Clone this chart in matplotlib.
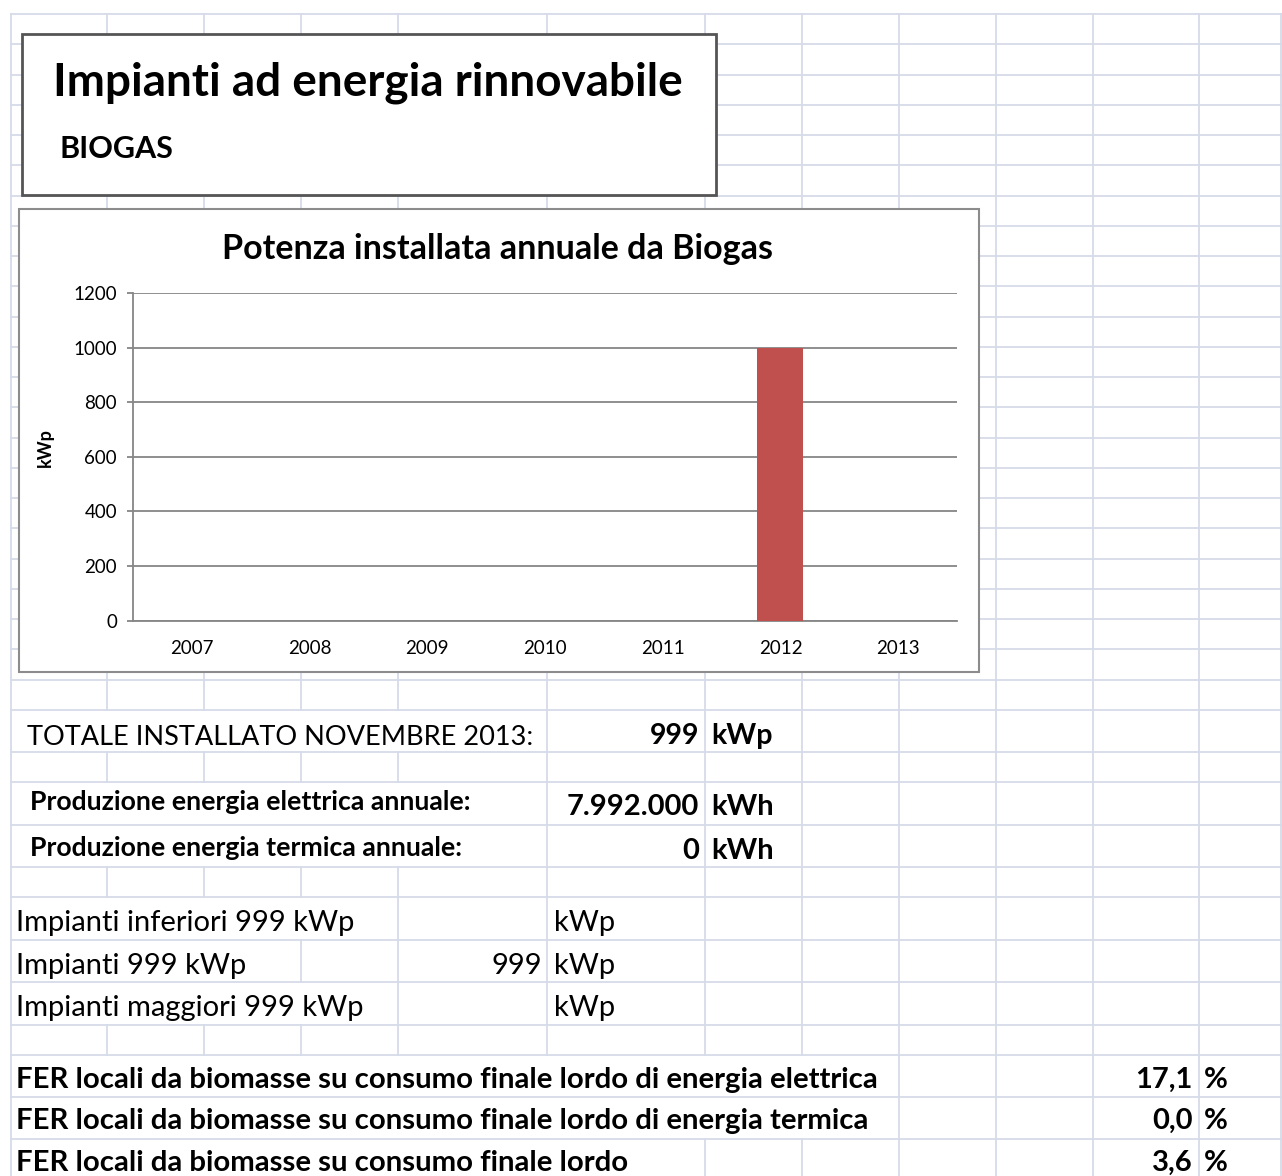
import numpy as np
import matplotlib.pyplot as plt
from matplotlib.patches import Rectangle

# dati del grafico
anni = ['2007', '2008', '2009', '2010', '2011', '2012', '2013']
potenza_kwp = [0, 0, 0, 0, 0, 999, 0]
yticks = [0, 200, 400, 600, 800, 1000, 1200]

titolo = 'Impianti ad energia rinnovabile'
sottotitolo = 'BIOGAS'
titolo_grafico = 'Potenza installata annuale da Biogas'

# tabella sotto il grafico
totale_label = 'TOTALE INSTALLATO NOVEMBRE 2013:'
totale_valore = '999'
produzione_label = ['Produzione energia elettrica annuale:', 'Produzione energia termica annuale:']
produzione_valore = ['7.992.000', '0']
impianti_label = ['Impianti inferiori 999 kWp', 'Impianti 999 kWp', 'Impianti maggiori 999 kWp']
impianti_valore = ['', '999', '']
fer_label = ['FER locali da biomasse su consumo finale lordo di energia elettrica',
             'FER locali da biomasse su consumo finale lordo di energia termica',
             'FER locali da biomasse su consumo finale lordo']
fer_valore = ['17,1', '0,0', '3,6']

plt.rcParams['font.family'] = ['Lato', 'DejaVu Sans']

W, H = 1282, 1176
fig = plt.figure(figsize=(W / 100, H / 100), dpi=100)
bg = fig.add_axes([0, 0, 1, 1])
bg.set_xlim(0, W)
bg.set_ylim(H, 0)
bg.axis('off')

# griglia del foglio di calcolo
grid_col = '#D5DBE8'
col_x = [11, 107, 204, 301, 398, 547, 705, 802, 899, 996, 1093, 1199, 1281]
row_y = list(np.linspace(14, 710, 24)) + [752, 782, 825, 867, 897, 940, 982, 1025, 1055, 1097, 1139, 1181]
# linee verticali coperte dal testo che sborda
nascoste = {
    23: [107, 204, 301, 398],
    25: [107, 204, 301, 398],
    26: [107, 204, 301, 398],
    28: [107, 204, 301],
    29: [107, 204],
    30: [107, 204, 301],
    32: [107, 204, 301, 398, 547, 705, 802],
    33: [107, 204, 301, 398, 547, 705, 802],
    34: [107, 204, 301, 398, 547],
}
for y in row_y:
    bg.plot([11, W], [y, y], color=grid_col, lw=1.3, zorder=0)
for i in range(len(row_y) - 1):
    for x in col_x:
        if x in nascoste.get(i, []):
            continue
        bg.plot([x, x], [row_y[i], row_y[i + 1]], color=grid_col, lw=1.3, zorder=0)

# riquadro del titolo
bg.add_patch(Rectangle((22, 34), 694, 161, facecolor='white', edgecolor='#555555', lw=2, zorder=2))
bg.text(53, 96, titolo, fontsize=33, fontweight='bold', va='baseline', zorder=3)
bg.text(59, 158, sottotitolo, fontsize=22, fontweight='bold', va='baseline', zorder=3)

# riquadro del grafico
bg.add_patch(Rectangle((19, 209), 960, 463, facecolor='white', edgecolor='#8C8C8C', lw=1.5, zorder=2))
bg.text(498, 259, titolo_grafico, fontsize=24.5, fontweight='bold', ha='center', va='baseline', zorder=3)
bg.text(45, 448, 'kWp', fontsize=13, fontweight='bold', rotation=90, ha='center', va='center', zorder=3)

ax = fig.add_axes([133 / W, 1 - 620.5 / H, (957 - 133) / W, (620.5 - 293) / H], zorder=4)
ax.patch.set_alpha(0)
x = np.arange(len(anni))
ax.bar(x, potenza_kwp, width=0.39, color='#C0504D', zorder=3)
ax.set_xlim(-0.5, len(anni) - 0.5)
ax.set_ylim(0, 1200)
ax.set_yticks(yticks)
ax.set_xticks(x, anni)
ax.yaxis.grid(True, color='#868686', lw=1.3)
ax.set_axisbelow(True)
for s in ['top', 'right']:
    ax.spines[s].set_visible(False)
for s in ['left', 'bottom']:
    ax.spines[s].set_color('#868686')
    ax.spines[s].set_linewidth(1.3)
ax.tick_params(axis='y', length=4.5, color='#868686', width=1.3, pad=7, labelsize=13.5)
ax.tick_params(axis='x', length=0, pad=14, labelsize=13.5)

# tabella
bg.text(27, 745, totale_label, fontsize=19.5, va='baseline')
bg.text(699, 744, totale_valore, fontsize=20.5, fontweight='bold', ha='right', va='baseline')
bg.text(711, 744, 'kWp', fontsize=20.5, fontweight='bold', va='baseline')

for lab, val, yl, yv in zip(produzione_label, produzione_valore, [810, 856], [815, 859]):
    bg.text(30, yl, lab, fontsize=19.2, fontweight='bold', va='baseline')
    bg.text(699, yv, val, fontsize=21, fontweight='bold', ha='right', va='baseline')
    bg.text(711, yv, 'kWh', fontsize=21, fontweight='bold', va='baseline')

for lab, val, yb in zip(impianti_label, impianti_valore, [931, 974, 1016]):
    bg.text(16, yb, lab, fontsize=21, va='baseline')
    bg.text(542, yb, val, fontsize=21, ha='right', va='baseline')
    bg.text(554, yb, 'kWp', fontsize=21, va='baseline')

for lab, val, yb in zip(fer_label, fer_valore, [1088, 1129, 1171]):
    bg.text(16, yb, lab, fontsize=21.2, fontweight='bold', va='baseline')
    bg.text(1193, yb, val, fontsize=21, fontweight='bold', ha='right', va='baseline')
    bg.text(1204, yb, '%', fontsize=21, fontweight='bold', va='baseline')

fig.savefig('out.png', dpi=100)
